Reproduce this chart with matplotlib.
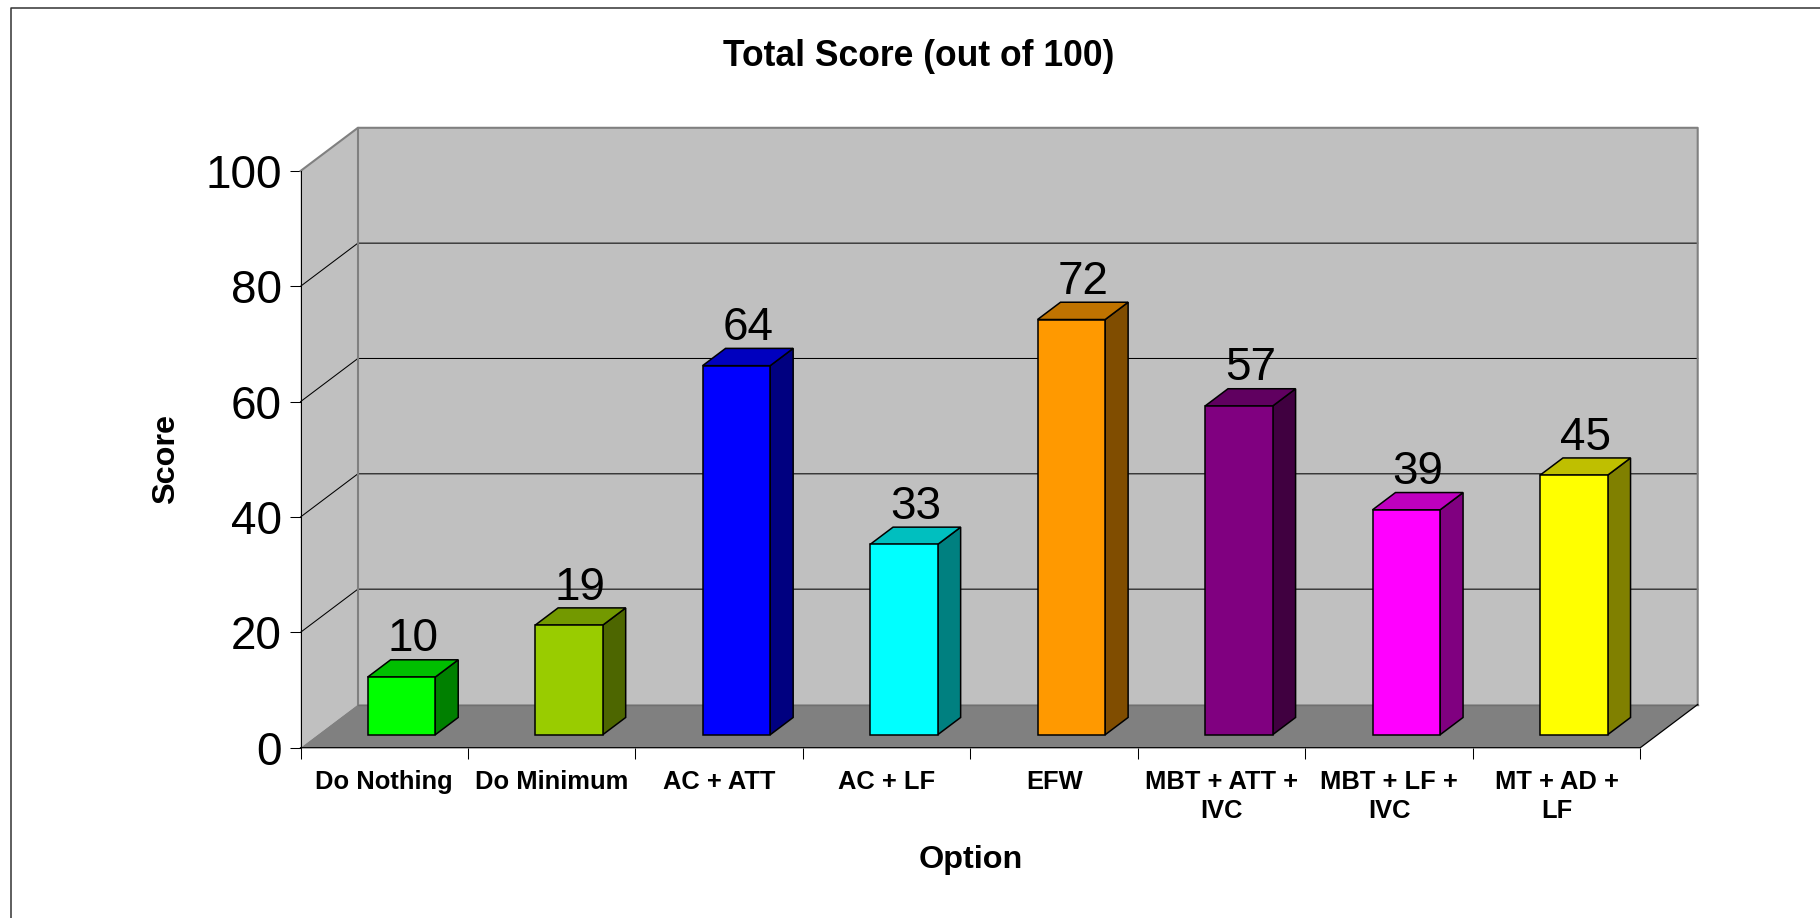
import matplotlib
matplotlib.use("Agg")
import matplotlib.pyplot as plt
from matplotlib.patches import Polygon
from matplotlib.lines import Line2D

# ---- data ----
categories = ["Do Nothing", "Do Minimum", "AC + ATT", "AC + LF", "EFW",
              "MBT + ATT +\nIVC", "MBT + LF +\nIVC", "MT + AD +\nLF"]
scores = [10, 19, 64, 33, 72, 57, 39, 45]
front_colors = ["#00FF00", "#99CC00", "#0000FF", "#00FFFF", "#FF9900", "#800080", "#FF00FF", "#FFFF00"]
top_colors = ["#00BF00", "#739900", "#0000BF", "#00BFBF", "#BF7300", "#600060", "#BF00BF", "#BFBF00"]
side_colors = ["#008000", "#4D6600", "#000080", "#008080", "#804D00", "#400040", "#800080", "#808000"]
y_ticks = [0, 20, 40, 60, 80, 100]

FONT = "Liberation Sans"
W, H = 1820, 918
X0, X1, Y0, Y100 = 300.5, 1640.3, 747.7, 171.0   # front plane, pixels
DX, DY = 57.4, 43.2                              # chart depth, pixels
ux = (X1 - X0) / len(categories)
uy = (Y0 - Y100) / 100
zx, zy = DX / ux, DY / uy                        # depth in data units


def P(x, y, z=0.0):
    """Oblique projection of category x, value y, depth z (0 front, 1 back)."""
    return (x + z * zx, y + z * zy)


fig = plt.figure(figsize=(W / 100, H / 100), dpi=100, facecolor="white")
ax = fig.add_axes([X0 / W, 1 - Y0 / H, (X1 - X0) / W, (Y0 - Y100) / H])
ax.set_xlim(0, len(categories))
ax.set_ylim(0, 100)
ax.patch.set_visible(False)
for s in ax.spines.values():
    s.set_visible(False)

n = len(categories)
WALL, FLOOR, EDGE = "#C0C0C0", "#808080", "#808080"


def poly(pts, fc, z, ec="none", lw=0.0):
    ax.add_patch(Polygon(pts, closed=True, facecolor=fc, edgecolor=ec, linewidth=lw,
                         joinstyle="miter", clip_on=False, zorder=z))


def line(pts, c, lw, z):
    ax.add_line(Line2D(*zip(*pts), color=c, lw=lw, clip_on=False, zorder=z,
                       solid_capstyle="projecting"))


# walls and floor
poly([P(0, 0, 1), P(n, 0, 1), P(n, 100, 1), P(0, 100, 1)], WALL, 1)
poly([P(0, 0, 0), P(0, 0, 1), P(0, 100, 1), P(0, 100, 0)], WALL, 1)
poly([P(0, 0, 0), P(n, 0, 0), P(n, 0, 1), P(0, 0, 1)], FLOOR, 1)

# gridlines
for v in y_ticks[1:-1]:
    line([P(0, v, 0), P(0, v, 1), P(n, v, 1)], "#000000", 0.75, 2)

# wall edges
line([P(0, 100, 0), P(0, 100, 1), P(n, 100, 1), P(n, 0, 1)], EDGE, 1.5, 3)
line([P(0, 0, 1), P(0, 100, 1)], EDGE, 1.5, 3)
line([P(0, 0, 1), P(n, 0, 1)], "#707070", 1.0, 3)
line([P(0, 0, 0), P(0, 100, 0)], "#000000", 0.75, 4)
line([P(0, 0, 0), P(n, 0, 0), P(n, 0, 1)], "#000000", 0.9, 4)

# bars
BW = 0.4036
Z0, Z1 = 0.30, 0.70
for i, (v, fc, tc, sc) in enumerate(zip(scores, front_colors, top_colors, side_colors)):
    a = i + 0.5 - BW / 2
    b = i + 0.5 + BW / 2
    poly([P(b, 0, Z0), P(b, 0, Z1), P(b, v, Z1), P(b, v, Z0)], sc, 5, "#000000", 1.1)
    poly([P(a, v, Z0), P(b, v, Z0), P(b, v, Z1), P(a, v, Z1)], tc, 5, "#000000", 1.1)
    bx, by = P(i + 0.5, 0, Z0)
    ax.bar(bx, v, width=BW, bottom=by, color=fc, edgecolor="#000000", linewidth=1.1,
           clip_on=False, zorder=6)
    lx, ly = P(i + 0.5, v, Z1)
    ax.annotate(str(v), xy=(lx - (Z1 - Z0) * zx / 2, ly), xytext=(0, 6), textcoords="offset points",
                ha="center", va="baseline", fontsize=33, family=FONT, color="#000000",
                annotation_clip=False, zorder=8)

# axes ticks and labels
ax.set_yticks(y_ticks)
ax.set_yticklabels([str(v) for v in y_ticks], fontsize=33, family=FONT)
ax.set_xticks(range(n + 1))
ax.set_xticklabels([""] * (n + 1))
ax.set_xticks([i + 0.5 for i in range(n)], minor=True)
ax.set_xticklabels(categories, minor=True, fontsize=18.4, family=FONT, fontweight="bold",
                   linespacing=1.27)
ax.tick_params(axis="y", length=8, width=0.75, pad=5.5, color="#000000")
ax.tick_params(axis="x", which="major", length=8, width=0.75, color="#000000")
ax.tick_params(axis="x", which="minor", length=0, pad=16)

ax.set_title("")
fig.text(919 / W, 1 - 57 / H, "Total Score (out of 100)", ha="center", va="center",
         fontsize=25.6, fontweight="bold", family=FONT)
fig.text(970.4 / W, 1 - 860 / H, "Option", ha="center", va="center",
         fontsize=23.3, fontweight="bold", family=FONT)
fig.text(166 / W, 1 - 459 / H, "Score", ha="center", va="center", rotation=90,
         fontsize=23.3, fontweight="bold", family=FONT)

# outer frame, running off the canvas at right and bottom
fig.add_artist(Line2D([10.5 / W, 10.5 / W, 1], [0, 1 - 8 / H, 1 - 8 / H],
                      transform=fig.transFigure, color="#333333", lw=1.1))

fig.savefig("out.png", dpi=100, facecolor="white")
